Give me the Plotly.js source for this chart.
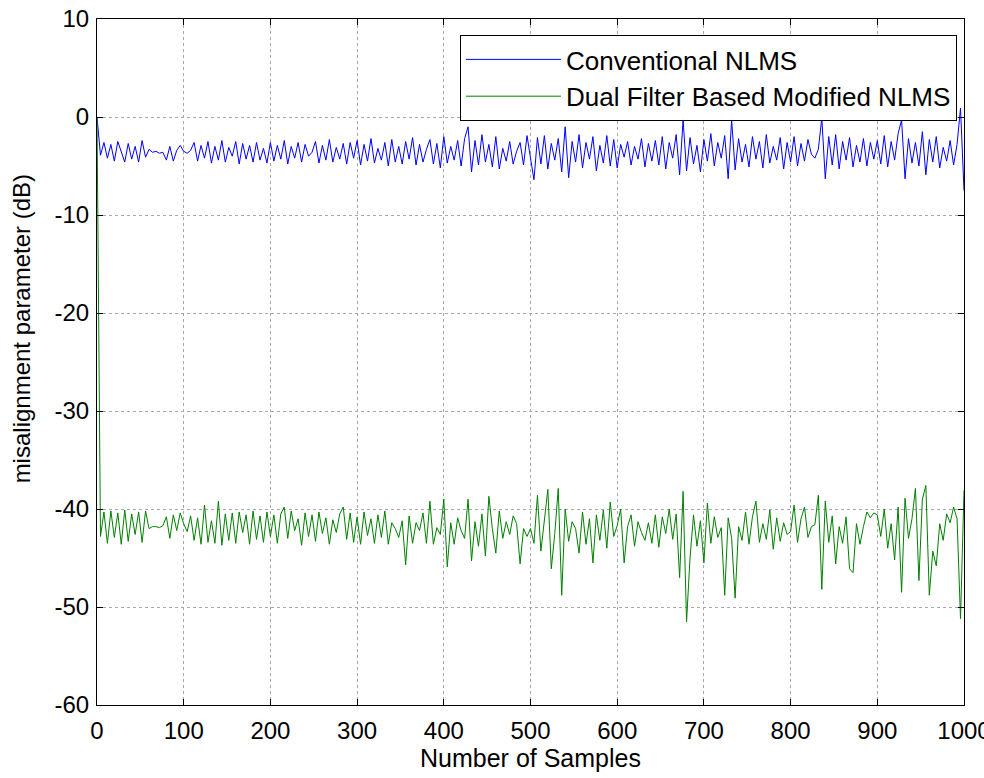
<!DOCTYPE html>
<html>
<head>
<meta charset="utf-8">
<script src="https://cdn.plot.ly/plotly-3.0.1.min.js"></script>
<style>html,body{margin:0;padding:0;background:#fff;}#chart{width:984px;height:778px;}</style>
</head>
<body>
<div id="chart"></div>
<script>
// sample spacing of the read-off points
var SAMPLE_STEP = 4;

var seriesNames = ["Conventional NLMS", "Dual Filter Based Modified NLMS"];

// Conventional NLMS misalignment (dB), read every 4 samples from 0 to 1000
var conventionalNLMS = [
  0, -3.9, -2.6, -4.2, -2.8, -4.5, -2.5, -3.6, -4.6, -2.7, -4.3, -3.0, -4.6, -2.4, -4.1, -3.3, -3.6, -3.5, -3.7, -3.6, -4.4, -3.0, -4.5, -3.4, -2.9,
  -3.5, -3.7, -3.4, -2.6, -4.5, -2.9, -4.2, -2.5, -4.7, -3.0, -4.4, -2.4, -4.6, -3.1, -4.0, -2.5, -4.8, -2.7, -4.3, -2.9, -4.6, -2.6, -4.4, -3.2, -4.7,
  -2.6, -4.5, -2.9, -4.3, -2.4, -4.8, -3.0, -4.2, -2.6, -4.6, -2.8, -4.0, -3.6, -2.5, -4.7, -2.9, -4.4, -2.3, -4.6, -3.1, -4.3, -2.7, -4.8, -2.6, -4.2,
  -2.4, -4.9, -2.8, -4.5, -2.2, -4.7, -3.2, -4.4, -2.6, -5.0, -2.3, -4.6, -3.0, -4.8, -2.5, -4.3, -2.1, -4.9, -2.8, -4.6, -3.3, -2.3, -4.8, -2.7, -5.2,
  -2.0, -4.7, -3.0, -4.4, -2.4, -5.0, -2.2, -1.0, -5.6, -2.4, -4.9, -1.8, -4.6, -2.8, -5.1, -2.0, -5.3, -3.2, -4.5, -2.5, -4.8, -3.5, -2.6, -4.9, -1.9,
  -4.2, -6.4, -2.1, -4.8, -1.9, -5.3, -2.7, -4.4, -2.2, -5.6, -1.0, -6.2, -2.5, -4.6, -1.8, -5.2, -2.6, -4.3, -2.0, -5.5, -2.9, -4.7, -1.9, -5.0, -2.3,
  -5.2, -2.8, -4.1, -2.5, -4.9, -3.0, -4.3, -2.2, -5.1, -2.7, -4.5, -2.4, -4.9, -2.0, -5.3, -2.6, -4.2, -1.8, -5.9, -0.3, -5.5, -2.1, -4.8, -2.9, -5.6,
  -2.3, -4.5, -1.7, -5.0, -2.6, -4.2, -1.9, -6.3, -0.3, -5.4, -2.2, -4.6, -2.8, -5.1, -2.0, -4.3, -2.5, -5.2, -1.8, -4.7, -3.0, -4.4, -2.1, -5.3, -2.6,
  -4.6, -2.0, -5.0, -2.7, -4.5, -2.3, -3.8, -4.2, -3.3, -0.1, -6.3, -2.0, -4.9, -1.8, -5.3, -2.5, -4.4, -2.1, -5.1, -2.9, -4.6, -2.2, -5.0, -2.6, -4.3,
  -2.4, -4.8, -1.9, -5.1, -2.5, -4.4, -1.7, -0.3, -6.3, -2.2, -4.7, -2.6, -5.0, -1.5, -5.9, -2.3, -4.6, -2.0, -5.2, -3.1, -4.5, -2.4, -4.9, -2.8, 0.9,
  -7.5
];

// Dual filter based modified NLMS misalignment (dB), read every 4 samples from 0 to 1000
var dualFilterNLMS = [
  0, -42.8, -40.3, -43.5, -40.2, -42.9, -40.4, -43.6, -40.1, -43.3, -40.5, -42.6, -40.3, -43.4, -40.2, -42.0, -41.8, -41.8, -41.9, -41.7, -40.8, -43.0, -40.6, -42.2, -40.4,
  -41.5, -42.3, -40.7, -43.2, -40.9, -43.6, -39.6, -43.4, -41.2, -43.5, -39.2, -43.7, -40.5, -43.2, -40.4, -43.5, -40.3, -42.4, -40.6, -43.6, -40.2, -43.1, -40.7, -43.4, -40.3,
  -42.8, -40.6, -43.5, -40.5, -39.8, -43.0, -40.2, -42.2, -41.0, -43.7, -40.4, -42.8, -40.6, -43.3, -40.3, -42.5, -40.9, -43.6, -41.1, -42.4, -40.5, -39.8, -43.1, -40.4, -43.4,
  -40.8, -43.6, -40.3, -42.7, -41.0, -43.5, -40.6, -42.9, -40.2, -43.6, -41.4, -42.0, -42.9, -41.2, -45.7, -40.7, -43.5, -41.4, -42.2, -40.4, -43.5, -39.2, -43.6, -41.9, -42.6,
  -39.0, -45.9, -41.4, -43.6, -40.9, -42.2, -43.0, -39.0, -45.3, -41.3, -43.8, -40.5, -44.8, -38.7, -42.0, -44.5, -40.2, -43.0, -41.3, -42.6, -40.7, -41.5, -45.6, -42.0, -42.8,
  -42.0, -43.5, -38.6, -44.3, -41.2, -38.0, -46.1, -42.5, -37.9, -48.8, -40.0, -43.3, -41.3, -42.0, -44.5, -40.3, -43.6, -41.0, -45.5, -40.6, -43.2, -40.1, -44.0, -39.3, -42.8,
  -41.7, -40.0, -45.5, -41.8, -40.6, -43.8, -41.3, -42.4, -43.2, -41.4, -43.5, -40.6, -43.9, -40.8, -42.5, -40.0, -43.1, -40.5, -47.0, -38.2, -51.5, -45.0, -40.6, -43.8, -41.2,
  -45.5, -39.4, -43.5, -40.8, -42.9, -41.9, -48.8, -40.9, -43.0, -49.1, -41.8, -43.2, -40.3, -43.6, -40.8, -39.2, -43.4, -41.5, -43.1, -40.1, -44.1, -40.9, -43.3, -41.4, -42.6,
  -42.3, -39.6, -43.4, -41.0, -39.8, -42.9, -41.8, -41.6, -38.6, -48.2, -39.2, -43.4, -40.7, -45.6, -41.8, -43.5, -40.8, -46.1, -46.5, -41.5, -43.6, -41.8, -40.3, -40.9, -40.4,
  -40.6, -42.8, -40.0, -44.0, -41.5, -45.2, -39.8, -48.5, -38.9, -43.0, -41.0, -37.9, -47.3, -39.0, -37.6, -48.8, -44.3, -45.8, -41.5, -43.2, -40.5, -41.4, -39.8, -41.0, -51.2,
  -38.1
];

var xTickVals = [0, 100, 200, 300, 400, 500, 600, 700, 800, 900, 1000];
var xTickText = ["0", "100", "200", "300", "400", "500", "600", "700", "800", "900", "1000"];
var yTickVals = [10, 0, -10, -20, -30, -40, -50, -60];
var yTickText = ["10", "0", "-10", "-20", "-30", "-40", "-50", "-60"];

var xTitle = "Number of Samples";
var yTitle = "misalignment parameter (dB)";

var FONT = "Liberation Sans, Arial, sans-serif";

var traces = [
  {
    type: "scatter", mode: "lines", name: seriesNames[0],
    x0: 0, dx: SAMPLE_STEP, y: conventionalNLMS,
    line: {color: "#0000ff", width: 1}
  },
  {
    type: "scatter", mode: "lines", name: seriesNames[1],
    x0: 0, dx: SAMPLE_STEP, y: dualFilterNLMS,
    line: {color: "#008000", width: 1}
  }
];

var axisCommon = {
  showline: true, linecolor: "#000", linewidth: 1, mirror: "allticks",
  ticks: "inside", ticklen: 6, tickcolor: "#000", tickwidth: 1,
  showgrid: true, gridcolor: "#a8a8a8", griddash: "dot", gridwidth: 1,
  zeroline: false, tickmode: "array",
  tickfont: {family: FONT, size: 24, color: "#000"}
};

// zero-width space + no-break spaces lift the rotated title to where the reference places it
var yTitlePad = "\u200b" + "\u00a0".repeat(10);

var layout = {
  width: 984, height: 778,
  paper_bgcolor: "#fff", plot_bgcolor: "#fff",
  margin: {l: 97, r: 20, t: 19, b: 73},
  showlegend: true,
  legend: {
    x: 0.9919, y: 0.9767, xanchor: "right", yanchor: "top",
    bgcolor: "#fff", bordercolor: "#000", borderwidth: 1,
    font: {family: FONT, size: 26, color: "#000"},
    itemwidth: 95, tracegroupgap: 0
  },
  xaxis: Object.assign({}, axisCommon, {
    range: [0, 1000], tickvals: xTickVals, ticktext: xTickText,
    ticklabeloverflow: "allow", ticklabelstandoff: 4,
    title: {text: xTitle, font: {family: FONT, size: 25, color: "#000"}, standoff: 6}
  }),
  yaxis: Object.assign({}, axisCommon, {
    range: [-60, 10], tickvals: yTickVals, ticktext: yTickText,
    ticklabelstandoff: 2,
    title: {text: yTitlePad + yTitle, font: {family: FONT, size: 24, color: "#000"}, standoff: 17}
  })
};

Plotly.newPlot("chart", traces, layout, {staticPlot: true, displayModeBar: false});
</script>
</body>
</html>
